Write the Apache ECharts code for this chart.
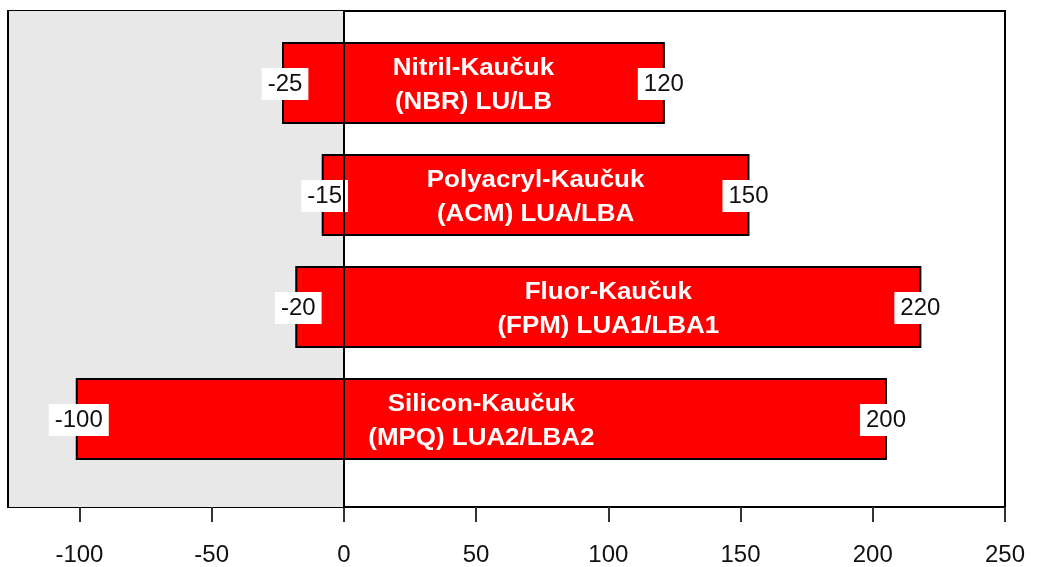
<!DOCTYPE html>
<html>
<head>
<meta charset="utf-8">
<script src="https://cdn.jsdelivr.net/npm/echarts@6/dist/echarts.min.js"></script>
<style>
  html, body { margin: 0; padding: 0; background: #fff; }
  #chart { width: 1056px; height: 567px; }
</style>
</head>
<body>
<div id="chart"></div>
<script>
// categories, bottom to top
const categories = [
  'Silicon-Kaučuk\n(MPQ) LUA2/LBA2',
  'Fluor-Kaučuk\n(FPM) LUA1/LBA1',
  'Polyacryl-Kaučuk\n(ACM) LUA/LBA',
  'Nitril-Kaučuk\n(NBR) LU/LB'
]
// bar extents as drawn
const lowValues = [-101, -18, -8, -23]
const highValues = [205, 218, 153, 121]
// printed labels at the bar ends
const lowLabels = ['-100', '-20', '-15', '-25']
const highLabels = ['200', '220', '150', '120']
const tickValues = [-100, -50, 0, 50, 100, 150, 200, 250]

const FONT = '"Liberation Sans", Arial, sans-serif'

const chart = echarts.init(document.getElementById('chart'))

const data = categories.map((c, i) => [i, lowValues[i], highValues[i]])

function renderItem(params, api) {
  const idx = api.value(0)
  const lo = api.coord([api.value(1), idx])
  const hi = api.coord([api.value(2), idx])
  const h = api.size([0, 0.714])[1]
  const cy = lo[1]
  const edgeStyle = {
    fill: '#111',
    font: '24px ' + FONT,
    align: 'center',
    verticalAlign: 'middle',
    backgroundColor: '#fff',
    padding: [4, 6, 4, 6]
  }
  return {
    type: 'group',
    children: [
      {
        type: 'rect',
        shape: { x: lo[0], y: cy - h / 2, width: hi[0] - lo[0], height: h },
        style: { fill: '#ff0000', stroke: '#000', lineWidth: 2 }
      },
      {
        type: 'text',
        x: (lo[0] + hi[0]) / 2,
        y: cy + 2,
        scaleX: 1.08,
        style: {
          text: categories[idx],
          fill: '#fff',
          font: 'bold 24px ' + FONT,
          lineHeight: 34,
          align: 'center',
          verticalAlign: 'middle'
        }
      },
      {
        type: 'text',
        x: lo[0] + 2,
        y: cy + 1,
        style: Object.assign({ text: lowLabels[idx] }, edgeStyle)
      },
      {
        type: 'text',
        x: hi[0],
        y: cy + 1,
        style: Object.assign({ text: highLabels[idx] }, edgeStyle)
      }
    ]
  }
}

const option = {
  animation: false,
  grid: {
    left: 8,
    right: 51,
    top: 11,
    bottom: 60,
    show: true,
    borderColor: '#000',
    borderWidth: 2,
    backgroundColor: 'transparent'
  },
  xAxis: {
    type: 'value',
    min: -127,
    max: 250,
    splitLine: { show: false },
    axisLine: { show: true, onZero: false, lineStyle: { color: '#000', width: 2 } },
    axisTick: {
      show: true,
      length: 15,
      customValues: tickValues,
      lineStyle: { color: '#333', width: 2 }
    },
    axisLabel: {
      customValues: tickValues,
      color: '#111',
      fontSize: 24,
      fontFamily: FONT,
      margin: 36
    }
  },
  yAxis: [
    {
      type: 'value',
      min: -0.786,
      max: 3.643,
      z: 10,
      axisLine: { show: true, onZero: true, lineStyle: { color: '#000', width: 2 } },
      axisTick: { show: false },
      axisLabel: { show: false },
      splitLine: { show: false }
    }
  ],
  series: [
    {
      type: 'custom',
      renderItem: renderItem,
      encode: { x: [1, 2], y: 0 },
      data: data,
      markArea: {
        silent: true,
        itemStyle: { color: '#e8e8e8' },
        data: [[{ xAxis: -126.6 }, { xAxis: 0 }]]
      }
    }
  ]
}

chart.setOption(option)
</script>
</body>
</html>
